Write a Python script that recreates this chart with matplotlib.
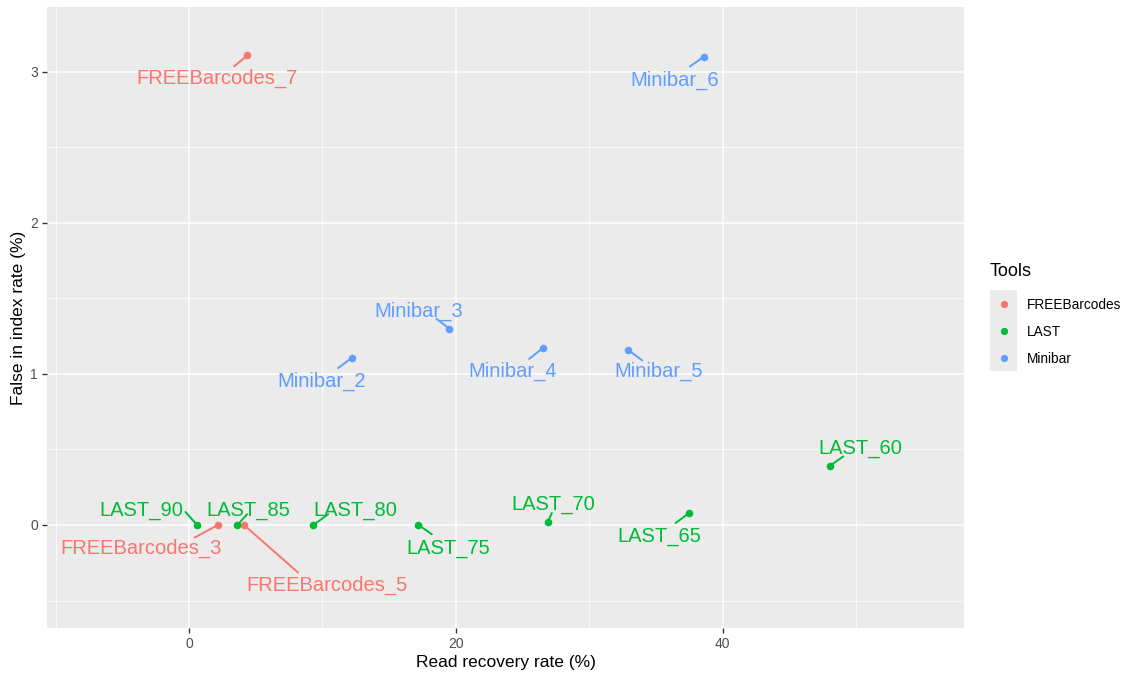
import matplotlib
matplotlib.use('Agg')
import matplotlib.pyplot as plt
from matplotlib.lines import Line2D
from matplotlib.patches import Rectangle

# ---- data ----
labels = ["FREEBarcodes_7", "Minibar_6", "Minibar_3", "Minibar_2", "Minibar_4",
          "Minibar_5", "LAST_60", "LAST_65", "LAST_70", "LAST_75", "LAST_80",
          "LAST_85", "LAST_90", "FREEBarcodes_3", "FREEBarcodes_5"]
tools = ["FREEBarcodes", "Minibar", "Minibar", "Minibar", "Minibar",
         "Minibar", "LAST", "LAST", "LAST", "LAST", "LAST",
         "LAST", "LAST", "FREEBarcodes", "FREEBarcodes"]
read_recovery = [4.38, 38.6, 19.5, 12.2, 26.5, 32.9, 48.05, 37.5, 26.9, 17.2, 9.33,
                 3.63, 0.6, 2.17, 4.12]
false_index = [3.108, 3.10, 1.30, 1.106, 1.169, 1.160, 0.392, 0.079, 0.022, 0.0, 0.0,
               0.0, 0.0, 0.0, 0.0]
tool_names = ["FREEBarcodes", "LAST", "Minibar"]

# ---- styling / layout ----
tool_colors = {"FREEBarcodes": "#F8766D", "LAST": "#00BA38", "Minibar": "#619CFF"}
# label (cap-centre) offsets in pixels (dx right, dy down) relative to the point
label_offsets = [(-30, 21), (-29, 21.5), (-30, -19.5), (-30, 21.5), (-30, 21),
                 (30.5, 20), (30, -19.5), (-29.5, 21), (5.3, -19), (30, 21.3),
                 (42, -16.7), (10.6, -16.7), (-55.6, -16.7), (-76.8, 21.3), (83.2, 58.6)]
# leader-line start offsets in pixels (dx right, dy down) relative to the point
leader_offsets = [(-13.4, 11), (-14, 10), (-12.6, -9.7), (-13.7, 10.3), (-13.4, 10.6),
                  (14.4, 10.7), (13.3, -9.3), (-13.6, 10), (4, -8.7), (13.4, 9.3),
                  (14.6, -10.7), (9.6, -10.7), (-11.6, -13), (-23.3, 12.6), (54, 47.6)]

FONT = "Liberation Sans"
plt.rcParams['font.family'] = [FONT, 'DejaVu Sans']

W, H = 1127, 675
fig = plt.figure(figsize=(W / 100, H / 100), dpi=100)
fig.patch.set_facecolor('white')

L, R, T, B = 47, 964, 7, 628
ax = fig.add_axes([L / W, 1 - B / H, (R - L) / W, (B - T) / H])
ax.set_facecolor('#EBEBEB')
for s in ax.spines.values():
    s.set_visible(False)

ax.set_xlim(-10.65, 58.1)
ax.set_ylim(-0.682, 3.428)

ax.set_xticks([0, 20, 40])
ax.set_yticks([0, 1, 2, 3])
ax.set_xticks([-10, 10, 30, 50], minor=True)
ax.set_yticks([-0.5, 0.5, 1.5, 2.5], minor=True)
ax.grid(which='major', color='white', linewidth=1.1)
ax.grid(which='minor', color='white', linewidth=0.55)
ax.set_axisbelow(True)
ax.tick_params(which='major', length=3.5, width=1.0, color='#333333',
               labelsize=10, labelcolor='#4D4D4D', pad=3)
ax.tick_params(which='minor', length=0)

ax.set_xlabel("Read recovery rate (%)", fontsize=12.5, color='black', labelpad=3)
ax.set_ylabel("False in index rate (%)", fontsize=12.5, color='black', labelpad=3)

for tname in tool_names:
    xs = [x for x, t in zip(read_recovery, tools) if t == tname]
    ys = [y for y, t in zip(false_index, tools) if t == tname]
    ax.scatter(xs, ys, s=30, color=tool_colors[tname], zorder=4, linewidths=0)

for lab, t, x, y, (dx, dy), (sx, sy) in zip(labels, tools, read_recovery, false_index,
                                             label_offsets, leader_offsets):
    c = tool_colors[t]
    ax.annotate(lab, xy=(x, y), xytext=(dx, -dy), textcoords='offset pixels',
                ha='center', va='center_baseline', fontsize=14.5, color=c,
                fontfamily=FONT, zorder=5)
    ax.annotate("", xy=(x, y), xytext=(sx, -sy), textcoords='offset pixels',
                zorder=3,
                arrowprops=dict(arrowstyle='-', color=c, lw=1.4,
                                shrinkA=0, shrinkB=0, patchA=None, patchB=None))

# ---- legend ----
fig.text(990 / W, 1 - 272 / H, "Tools", fontsize=13, ha='left', va='center')
fig.patches.append(Rectangle((990 / W, 1 - 371 / H), 27 / W, 81 / H,
                             transform=fig.transFigure, facecolor='#EBEBEB',
                             edgecolor='none', zorder=0))
for i, tname in enumerate(tool_names):
    yy = 1 - (303.5 + 27 * i) / H
    fig.add_artist(Line2D([1003.5 / W], [yy], marker='o', markersize=5.2,
                          color=tool_colors[tname], markeredgewidth=0,
                          linestyle='none', transform=fig.transFigure, zorder=2))
    fig.text(1027 / W, yy, tname, fontsize=9.8, ha='left', va='center_baseline')

fig.savefig('out.png', dpi=100)
